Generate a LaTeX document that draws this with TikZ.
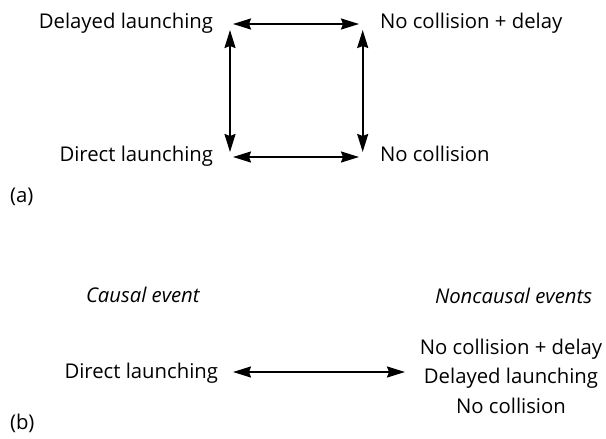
\documentclass[tikz,border=0pt]{standalone}
\usepackage{fontspec}
\setmainfont{Open Sans}
\usetikzlibrary{arrows.meta}
\begin{document}
\begin{tikzpicture}[x=1pt,y=-1pt,
  lbl/.style={inner sep=0pt,outer sep=0pt,font=\fontsize{20.3}{24}\selectfont},
  ilbl/.style={lbl,font=\fontsize{20.3}{24}\selectfont\itshape},
  dbl/.style={line width=2pt,{Stealth[length=18pt,width=11pt,inset=2pt]}-{Stealth[length=18pt,width=11pt,inset=2pt]}}]
\useasboundingbox (0,0) rectangle (606,439);
% (a)
\node[lbl,anchor=base east] (dl) at (213,28) {Delayed launching};
\node[lbl,anchor=base west] (ncd) at (380,28) {No collision + delay};
\node[lbl,anchor=base east] (dir) at (213,161) {Direct launching};
\node[lbl,anchor=base west] (nc) at (380,161) {No collision};
\node[lbl,anchor=base west] (la) at (10,202) {(a)};
\coordinate (tl) at (230,24);
\coordinate (tr) at (362.7,24);
\coordinate (bl) at (230,157);
\coordinate (br) at (362.7,157);
\draw[dbl,shorten <=3pt,shorten >=3.7pt] (tl) -- (tr);
\draw[dbl,shorten <=3pt,shorten >=3.7pt] (bl) -- (br);
\draw[dbl,shorten <=6pt,shorten >=5pt] (tl) -- (bl);
\draw[dbl,shorten <=6pt,shorten >=5pt] (tr) -- (br);
% (b)
\node[ilbl,anchor=base west] (ce) at (86,302) {Causal event};
\node[ilbl,anchor=base west] (nce) at (435,303) {Noncausal events};
\node[lbl,anchor=base east] (dirb) at (218,378) {Direct launching};
\node[lbl,anchor=base] (s1) at (511,354) {No collision + delay};
\node[lbl,anchor=base] (s2) at (511,383) {Delayed launching};
\node[lbl,anchor=base] (s3) at (511,413) {No collision};
\node[lbl,anchor=base west] (lb) at (10,429) {(b)};
\coordinate (ba) at (233,372);
\coordinate (bb) at (405,372);
\draw[dbl] (ba) -- (bb);
\end{tikzpicture}
\end{document}
